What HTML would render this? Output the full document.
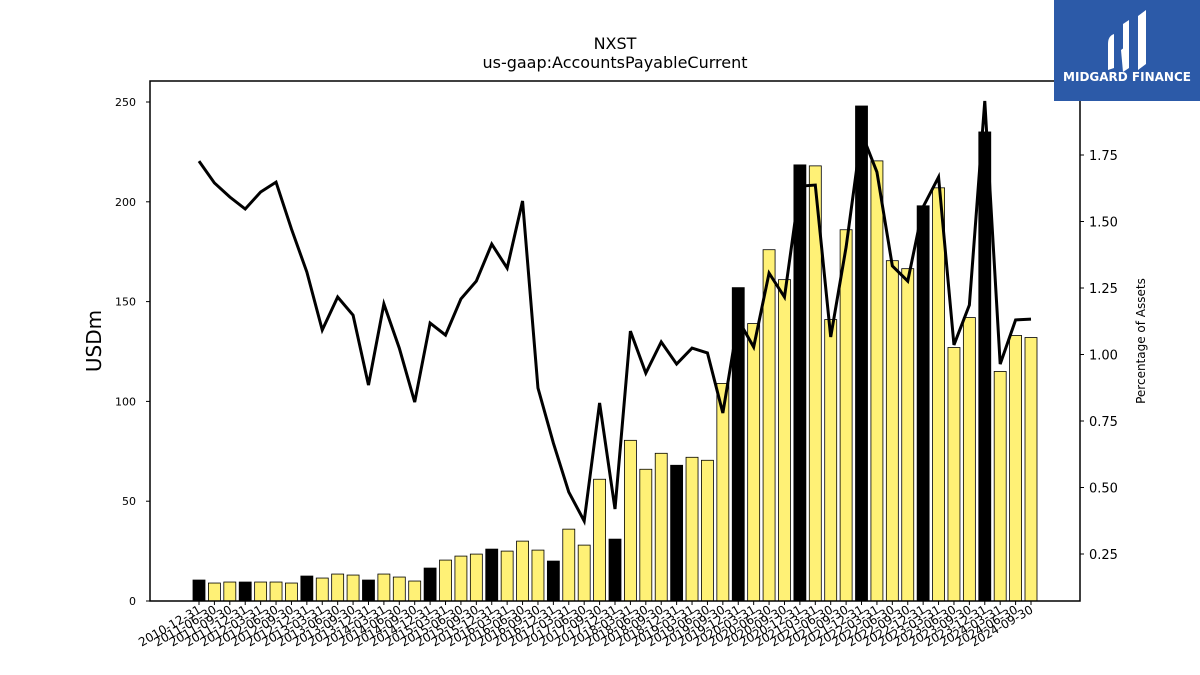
<!DOCTYPE html>
<html><head><meta charset="utf-8"><style>
body{margin:0;background:#fff;font-family:"DejaVu Sans","Liberation Sans",sans-serif}
svg{display:block}
</style></head><body>
<svg id="chart" width="1200" height="675" xmlns="http://www.w3.org/2000/svg">
<text x="615" y="49" text-anchor="middle" font-size="16">NXST</text>
<text x="615" y="68" text-anchor="middle" font-size="16">us-gaap:AccountsPayableCurrent</text>
<g id="bars"></g>
<g id="xt"></g>
<g id="yl"></g>
<g id="yr"></g>
<path id="line" fill="none" stroke="#000" stroke-width="3"/>
<rect x="150" y="81" width="930" height="520" fill="none" stroke="#000" stroke-width="1.5"/>
<text x="101" y="341" text-anchor="middle" font-size="20" transform="rotate(-90 101 341)">USDm</text>
<text x="1145" y="341" text-anchor="middle" font-size="12" transform="rotate(-90 1145 341)">Percentage of Assets</text>
<g>
<rect x="1054" y="0" width="146" height="101" fill="#2c5aa8"/>
<path d="M1108 44 q0-8 6-10 v34 l-6 2z M1123 24 l6-4 v26 l-6 6z M1121 50 l8-6 v24 l-6 4z M1138 16 l8-6 v54 l-8 6z" fill="#fff"/>
<text x="1127" y="81" text-anchor="middle" font-size="12" font-weight="bold" fill="#fff">MIDGARD FINANCE</text>
</g>
</svg>
<script>
const dates=["2010-12-31","2011-06-30","2011-09-30","2011-12-31","2012-03-31","2012-06-30","2012-09-30","2012-12-31","2013-03-31","2013-06-30","2013-09-30","2013-12-31","2014-03-31","2014-06-30","2014-09-30","2014-12-31","2015-03-31","2015-06-30","2015-09-30","2015-12-31","2016-03-31","2016-06-30","2016-09-30","2016-12-31","2017-03-31","2017-06-30","2017-09-30","2017-12-31","2018-03-31","2018-06-30","2018-09-30","2018-12-31","2019-03-31","2019-06-30","2019-09-30","2019-12-31","2020-03-31","2020-06-30","2020-09-30","2020-12-31","2021-03-31","2021-06-30","2021-09-30","2021-12-31","2022-03-31","2022-06-30","2022-09-30","2022-12-31","2023-03-31","2023-06-30","2023-09-30","2023-12-31","2024-03-31","2024-06-30","2024-09-30"];
const payables=[10.5,9,9.5,9.5,9.5,9.5,9,12.5,11.5,13.5,13,10.5,13.5,12,10,16.5,20.5,22.5,23.5,26,25,30,25.5,20,36,28,61,31,80.5,66,74,68,72,70.5,109,157,139,176,161,218.5,218,141,186,248,220.5,170.5,166.5,198,207,127,142,235,115,133,132];
const pctAssets=[1.727,1.645,1.592,1.547,1.611,1.648,1.472,1.31,1.092,1.216,1.148,0.885,1.19,1.024,0.821,1.118,1.073,1.209,1.276,1.415,1.325,1.577,0.874,0.667,0.483,0.374,0.818,0.419,1.088,0.93,1.047,0.964,1.024,1.006,0.78,1.13,1.028,1.306,1.216,1.633,1.637,1.066,1.404,1.833,1.686,1.333,1.276,1.555,1.667,1.036,1.186,1.953,0.964,1.13,1.133];
const leftTicks=[0,50,100,150,200,250];
const rightTicks=[0.25,0.5,0.75,1.0,1.25,1.5,1.75];
const NS="http://www.w3.org/2000/svg";
const xS=i=>199+i*(1031-199)/(dates.length-1);
const yL=v=>601-v*1.996;
const yR=v=>554-(v-0.25)*266;
function mk(t,a,p){const e=document.createElementNS(NS,t);for(const k in a)e.setAttribute(k,a[k]);p.appendChild(e);return e;}
const bars=document.getElementById('bars'),xt=document.getElementById('xt'),yl=document.getElementById('yl'),yr=document.getElementById('yr');
payables.forEach((v,i)=>{
 const annual=dates[i].endsWith("12-31");
 const r=mk('rect',{x:xS(i)-6,y:yL(v),width:12,height:601-yL(v),fill:annual?'#000':'#fff176',stroke:'#000','stroke-width':0.8},bars);
 
 
 mk('line',{x1:xS(i),x2:xS(i),y1:601,y2:605,stroke:'#000'},xt);
 const t=mk('text',{x:xS(i)+3,y:612,'font-size':12,'text-anchor':'end',transform:`rotate(-30 ${xS(i)+3} 612)`},xt);
 t.textContent=dates[i];
 
 
});
leftTicks.forEach(v=>{
 mk('line',{x1:146,x2:150,y1:yL(v),y2:yL(v),stroke:'#000'},yl);
 const t=mk('text',{x:136,y:yL(v)+4,'font-size':11,'text-anchor':'end'},yl);t.textContent=v;
 
 
});
rightTicks.forEach(v=>{
 mk('line',{x1:1080,x2:1084,y1:yR(v),y2:yR(v),stroke:'#000'},yr);
 const t=mk('text',{x:1089,y:yR(v)+5,'font-size':13},yr);t.textContent=v.toFixed(2);
 
 
});
document.getElementById('line').setAttribute('d',pctAssets.map((v,i)=>(i?'L':'M')+xS(i)+' '+yR(v)).join(' '));
</script>
</body></html>
